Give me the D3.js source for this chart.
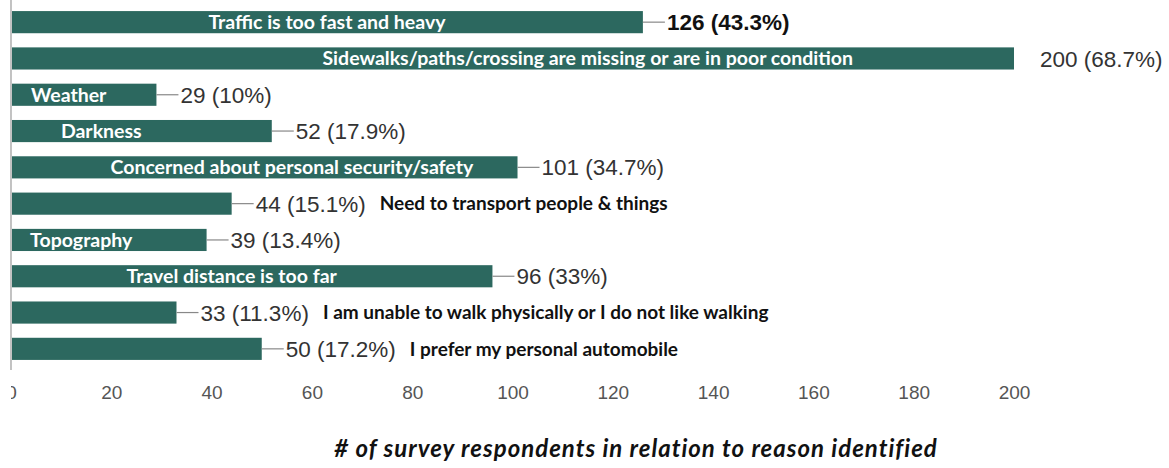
<!DOCTYPE html>
<html>
<head>
<meta charset="utf-8">
<script src="https://cdn.jsdelivr.net/npm/d3@7/dist/d3.min.js"></script>
<style>
  html, body { margin: 0; padding: 0; background: #fff; }
  svg { display: block; }
</style>
</head>
<body>
<svg id="chart" width="1169" height="468"></svg>
<script>
// Reasons respondents gave for not walking, with counts and share of respondents
const reasons = [
  "Traffic is too fast and heavy",
  "Sidewalks/paths/crossing are missing or are in poor condition",
  "Weather",
  "Darkness",
  "Concerned about personal security/safety",
  "Need to transport people & things",
  "Topography",
  "Travel distance is too far",
  "I am unable to walk physically or I do not like walking",
  "I prefer my personal automobile"
];
const counts = [126, 200, 29, 52, 101, 44, 39, 96, 33, 50];
const shares = ["43.3%", "68.7%", "10%", "17.9%", "34.7%", "15.1%", "13.4%", "33%", "11.3%", "17.2%"];
// Whether the reason text sits inside the bar (true) or after the value label (false)
const labelInside = [true, true, true, true, true, false, true, true, false, false];
const tickValues = [0, 20, 40, 60, 80, 100, 120, 140, 160, 180, 200];
const axisTitle = "# of survey respondents in relation to reason identified";

// Layout
const W = 1169, H = 468;
const x0 = 11, x1 = 1014;       // pixel extent for 0..200
const yTop = 4, yBottom = 367;  // band area
const barColor = "#2c685f";
// Center of each in-bar label, in axis units
const inLabelCenter = [63, 115, 11.5, 18, 56, null, 14, 44, null, null];

const svg = d3.select("#chart");
svg.append("rect").attr("width", W).attr("height", H).attr("fill", "#fff");

const x = d3.scaleLinear().domain([0, 200]).range([x0, x1]);
const y = d3.scaleBand().domain(d3.range(reasons.length))
  .range([yTop, yBottom]).paddingInner(0.39).paddingOuter(0.195);

// Vertical baseline
svg.append("line")
  .attr("x1", x0).attr("x2", x0).attr("y1", 0).attr("y2", 370)
  .attr("stroke", "#9a9a9a").attr("stroke-width", 1.2);

// Bottom axis: labels only
svg.append("clipPath").attr("id", "axisClip")
  .append("rect").attr("x", x0).attr("y", 0).attr("width", W).attr("height", H);
const axis = svg.append("g")
  .attr("transform", `translate(0, 385)`)
  .attr("clip-path", "url(#axisClip)")
  .call(d3.axisBottom(x).tickValues(tickValues).tickSize(0).tickPadding(0).tickFormat(d3.format("d")));
axis.select(".domain").remove();
axis.selectAll("text")
  .attr("font-family", "'Liberation Sans', Arial, sans-serif")
  .attr("font-size", 19)
  .attr("fill", "#555")
  .attr("dy", "0.71em");

const rows = svg.append("g").selectAll("g").data(reasons).join("g");

// Bars
rows.append("rect")
  .attr("x", x(0) + 1)
  .attr("y", (d, i) => y(i))
  .attr("width", (d, i) => x(counts[i]) - x(0) - 1)
  .attr("height", y.bandwidth())
  .attr("fill", barColor);

// Leader lines from bar end to value label
rows.filter((d, i) => i !== 1).append("line")
  .attr("x1", d => x(counts[reasons.indexOf(d)]))
  .attr("x2", d => x(counts[reasons.indexOf(d)]) + 22)
  .attr("y1", d => y(reasons.indexOf(d)) + y.bandwidth() / 2)
  .attr("y2", d => y(reasons.indexOf(d)) + y.bandwidth() / 2)
  .attr("stroke", "#888").attr("stroke-width", 1.2);

// Value labels
const valueLabels = rows.append("text")
  .attr("x", (d, i) => x(counts[i]) + (i === 1 ? 26 : 24))
  .attr("y", (d, i) => y(i) + y.bandwidth() / 2)
  .attr("dy", "0.36em")
  .attr("font-family", "'Liberation Sans', Arial, sans-serif")
  .attr("font-size", 22.5)
  .attr("font-weight", (d, i) => i === 0 ? 700 : 400)
  .attr("fill", (d, i) => i === 0 ? "#111" : "#333")
  .text((d, i) => `${counts[i]} (${shares[i]})`);

// Reason labels inside bars
rows.filter(d => labelInside[reasons.indexOf(d)]).append("text")
  .attr("x", d => x(inLabelCenter[reasons.indexOf(d)]))
  .attr("y", d => y(reasons.indexOf(d)) + y.bandwidth() / 2)
  .attr("dy", "0.36em")
  .attr("text-anchor", "middle")
  .attr("font-family", "Lato, 'Open Sans', sans-serif")
  .attr("font-weight", 700)
  .attr("font-size", 19.5)
  .attr("fill", "#fff")
  .text(d => d);

// Reason labels following the value label
valueLabels.each(function (d, i) {
  if (labelInside[i]) return;
  const bb = this.getBBox();
  d3.select(this.parentNode).append("text")
    .attr("x", bb.x + bb.width + 14)
    .attr("y", y(i) + y.bandwidth() / 2)
    .attr("dy", "0.36em")
    .attr("font-family", "Lato, 'Open Sans', sans-serif")
    .attr("font-weight", 700)
    .attr("font-size", 19)
    .attr("fill", "#111")
    .text(d);
});

// Axis title
svg.append("text")
  .attr("x", 636).attr("y", 457)
  .attr("text-anchor", "middle")
  .attr("font-family", "Lato, 'Open Sans', sans-serif")
  .attr("font-weight", 700)
  .attr("font-style", "italic")
  .attr("font-size", 24)
  .attr("letter-spacing", 1)
  .attr("fill", "#111")
  .text(axisTitle);
</script>
</body>
</html>
